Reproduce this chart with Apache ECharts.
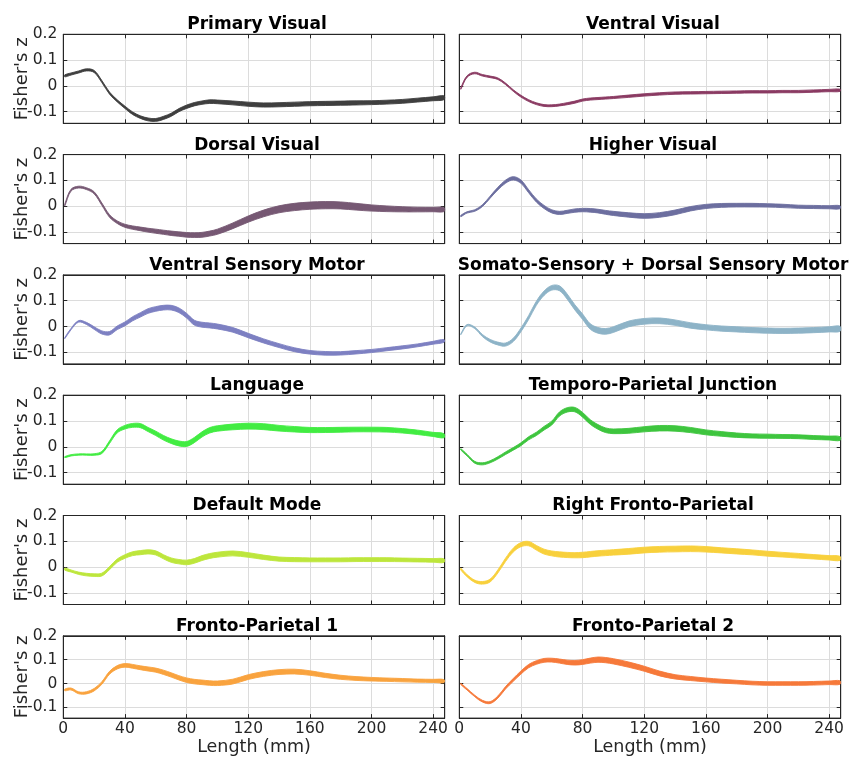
<!DOCTYPE html>
<html><head><meta charset="utf-8">
<script src="https://cdn.jsdelivr.net/npm/echarts@6/dist/echarts.min.js"></script>
<style>html,body{margin:0;padding:0;background:#fff}#c{width:852px;height:757px}</style>
</head><body><div id="c"></div>
<script>
// Length (mm) sample positions
const xLen = [1,5,10,15,20,25,30,35,40,45,50,55,60,65,70,75,80,85,90,95,100,110,120,130,140,150,160,170,180,190,200,210,220,230,240,247];

// Panel titles
const titles = ['Primary Visual','Ventral Visual','Dorsal Visual','Higher Visual','Ventral Sensory Motor','Somato-Sensory + Dorsal Sensory Motor','Language','Temporo-Parietal Junction','Default Mode','Right Fronto-Parietal','Fronto-Parietal 1','Fronto-Parietal 2'];

// Mean Fisher's z per network
const primaryVisual = [0.039,0.046,0.054,0.062,0.056,0.017,-0.028,-0.058,-0.083,-0.106,-0.121,-0.130,-0.132,-0.124,-0.112,-0.094,-0.081,-0.071,-0.065,-0.061,-0.062,-0.066,-0.071,-0.074,-0.073,-0.071,-0.069,-0.068,-0.067,-0.066,-0.065,-0.063,-0.060,-0.055,-0.050,-0.046];
const ventralVisual = [-0.010,0.036,0.050,0.041,0.035,0.028,0.008,-0.018,-0.040,-0.057,-0.069,-0.076,-0.077,-0.074,-0.069,-0.063,-0.055,-0.051,-0.049,-0.047,-0.045,-0.040,-0.035,-0.031,-0.028,-0.027,-0.026,-0.025,-0.024,-0.023,-0.023,-0.022,-0.022,-0.020,-0.018,-0.017];
const dorsalVisual = [0.005,0.062,0.074,0.068,0.052,0.008,-0.038,-0.062,-0.076,-0.083,-0.088,-0.093,-0.097,-0.101,-0.105,-0.108,-0.111,-0.112,-0.111,-0.106,-0.099,-0.076,-0.050,-0.028,-0.012,-0.003,0.002,0.004,0.003,-0.002,-0.007,-0.010,-0.012,-0.013,-0.013,-0.013];
const higherVisual = [-0.038,-0.024,-0.017,0.002,0.035,0.068,0.095,0.108,0.095,0.058,0.022,-0.003,-0.020,-0.026,-0.022,-0.017,-0.015,-0.016,-0.019,-0.024,-0.028,-0.034,-0.038,-0.034,-0.024,-0.010,-0.001,0.003,0.004,0.004,0.003,0.001,-0.002,-0.003,-0.004,-0.004];
const ventralSensoryMotor = [-0.045,-0.010,0.020,0.012,-0.006,-0.023,-0.026,-0.005,0.010,0.030,0.045,0.060,0.068,0.073,0.073,0.063,0.042,0.015,0.007,0.004,0.000,-0.013,-0.035,-0.056,-0.074,-0.090,-0.100,-0.104,-0.104,-0.100,-0.095,-0.088,-0.081,-0.073,-0.063,-0.056];
const somatoSensory = [-0.030,0.005,-0.005,-0.035,-0.055,-0.066,-0.070,-0.052,-0.013,0.035,0.090,0.129,0.150,0.148,0.116,0.074,0.038,0.000,-0.015,-0.019,-0.012,0.010,0.020,0.022,0.015,0.004,-0.003,-0.008,-0.011,-0.014,-0.016,-0.017,-0.016,-0.014,-0.011,-0.009];
const language = [-0.040,-0.033,-0.030,-0.030,-0.030,-0.022,0.018,0.060,0.076,0.083,0.082,0.067,0.052,0.035,0.022,0.013,0.011,0.026,0.048,0.064,0.071,0.077,0.080,0.078,0.072,0.068,0.065,0.065,0.066,0.067,0.067,0.066,0.062,0.056,0.048,0.043];
const temporoParietal = [-0.010,-0.032,-0.060,-0.066,-0.058,-0.043,-0.025,-0.008,0.010,0.033,0.050,0.072,0.092,0.127,0.143,0.144,0.124,0.096,0.077,0.064,0.060,0.062,0.068,0.072,0.071,0.065,0.056,0.050,0.045,0.042,0.041,0.040,0.039,0.036,0.034,0.032];
const defaultMode = [-0.008,-0.015,-0.024,-0.029,-0.031,-0.029,-0.004,0.025,0.041,0.052,0.056,0.059,0.055,0.040,0.027,0.021,0.018,0.024,0.035,0.043,0.048,0.053,0.047,0.038,0.031,0.029,0.028,0.028,0.028,0.029,0.029,0.029,0.028,0.027,0.026,0.025];
const rightFrontoParietal = [-0.008,-0.033,-0.055,-0.061,-0.052,-0.017,0.028,0.066,0.087,0.091,0.075,0.060,0.053,0.049,0.047,0.046,0.047,0.050,0.053,0.055,0.057,0.061,0.066,0.069,0.070,0.071,0.069,0.065,0.061,0.057,0.052,0.048,0.044,0.040,0.036,0.034];
const frontoParietal1 = [-0.027,-0.023,-0.039,-0.039,-0.026,0.002,0.045,0.068,0.076,0.072,0.066,0.061,0.056,0.047,0.036,0.024,0.014,0.008,0.005,0.002,0.001,0.008,0.027,0.040,0.048,0.050,0.044,0.034,0.026,0.021,0.018,0.016,0.014,0.012,0.011,0.010];
const frontoParietal2 = [-0.002,-0.024,-0.052,-0.074,-0.080,-0.057,-0.018,0.015,0.046,0.073,0.088,0.097,0.098,0.094,0.089,0.087,0.090,0.096,0.100,0.098,0.093,0.079,0.062,0.042,0.028,0.021,0.015,0.010,0.006,0.002,0.000,0.000,0.000,0.001,0.003,0.004];

// Spread (band thickness) of Fisher's z per network
const primaryVisualSpread = [.008,.008,.008,.008,.008,.008,.008,.008,.009,.010,.010,.011,.011,.012,.012,.012,.013,.013,.013,.014,.014,.015,.016,.016,.016,.016,.016,.016,.016,.016,.015,.015,.015,.015,.015,.015];
const ventralVisualSpread = [.006,.006,.006,.006,.006,.006,.006,.006,.007,.007,.007,.007,.007,.007,.008,.008,.008,.008,.008,.008,.008,.009,.009,.009,.009,.009,.009,.009,.009,.009,.009,.009,.009,.009,.009,.009];
const dorsalVisualSpread = [.007,.007,.007,.007,.008,.009,.010,.010,.012,.013,.014,.015,.016,.016,.017,.017,.018,.018,.019,.019,.020,.022,.024,.026,.027,.028,.028,.028,.027,.026,.024,.022,.020,.018,.017,.016];
const higherVisualSpread = [.005,.005,.006,.007,.008,.010,.012,.013,.013,.012,.012,.012,.012,.012,.012,.013,.013,.014,.014,.015,.016,.017,.018,.018,.018,.017,.016,.015,.014,.014,.013,.013,.012,.012,.012,.012];
const ventralSensoryMotorSpread = [.004,.005,.006,.008,.010,.012,.013,.014,.015,.016,.017,.018,.018,.018,.018,.018,.018,.019,.019,.019,.019,.018,.017,.016,.015,.015,.014,.014,.013,.013,.012,.012,.012,.011,.011,.011];
const somatoSensorySpread = [.004,.005,.006,.008,.010,.011,.012,.013,.014,.015,.016,.017,.018,.019,.020,.020,.021,.021,.022,.022,.022,.022,.022,.022,.021,.021,.020,.020,.020,.020,.020,.020,.020,.020,.020,.020];
const languageSpread = [.004,.005,.005,.005,.006,.008,.010,.012,.014,.015,.016,.016,.017,.018,.018,.019,.019,.020,.020,.021,.021,.022,.023,.023,.022,.021,.020,.019,.019,.018,.018,.018,.017,.017,.016,.016];
const temporoParietalSpread = [.005,.006,.007,.008,.008,.009,.010,.010,.011,.012,.013,.014,.015,.016,.017,.017,.018,.018,.018,.018,.018,.019,.020,.021,.021,.020,.019,.018,.017,.016,.016,.015,.015,.015,.015,.015];
const defaultModeSpread = [.008,.008,.009,.010,.010,.011,.012,.013,.014,.015,.016,.016,.016,.016,.017,.017,.018,.018,.019,.019,.019,.019,.018,.017,.016,.016,.015,.015,.015,.015,.015,.015,.014,.014,.014,.014];
const rightFrontoParietalSpread = [.007,.008,.009,.010,.011,.012,.013,.015,.016,.017,.018,.019,.019,.020,.020,.020,.021,.021,.021,.021,.021,.022,.022,.022,.022,.022,.021,.020,.020,.019,.019,.018,.018,.017,.017,.016];
const frontoParietal1Spread = [.007,.008,.008,.009,.010,.011,.012,.014,.015,.016,.016,.017,.017,.018,.018,.018,.019,.019,.019,.019,.019,.020,.020,.020,.020,.020,.019,.018,.017,.016,.015,.014,.014,.013,.013,.013];
const frontoParietal2Spread = [.005,.006,.006,.007,.008,.009,.010,.012,.013,.014,.015,.016,.016,.017,.018,.019,.020,.021,.022,.022,.022,.022,.021,.020,.018,.017,.016,.016,.015,.015,.015,.015,.015,.015,.015,.015];

// Tick labels
const xTicks = [0,40,80,120,160,200,240];
const yTicks = [-0.1,0,0.1,0.2];

const means = [primaryVisual,ventralVisual,dorsalVisual,higherVisual,ventralSensoryMotor,somatoSensory,language,temporoParietal,defaultMode,rightFrontoParietal,frontoParietal1,frontoParietal2];
const spreads = [primaryVisualSpread,ventralVisualSpread,dorsalVisualSpread,higherVisualSpread,ventralSensoryMotorSpread,somatoSensorySpread,languageSpread,temporoParietalSpread,defaultModeSpread,rightFrontoParietalSpread,frontoParietal1Spread,frontoParietal2Spread];
const colors = ['#3f3f3f','#8a3a62','#765873','#6c6e9f','#7d80c2','#8db3c7','#42ec42','#3ec53e','#bde63c','#f8d03c','#f9a33e','#f6793a'];

const FONT = 'DejaVu Sans';
const TXT = '#262626';
const colLeft = [63.3, 459.3], W = 381.4, H = 89, top0 = 34.3, step = 120.3;
const XMIN = 0, XMAX = 247.5, YMIN = -0.145, YMAX = 0.2;

const grid = [], xAxis = [], yAxis = [], series = [], title = [];
const isTick = (v, arr) => arr.some(t => Math.abs(t - v) < 1e-9);

means.forEach((m, i) => {
  const col = i % 2, row = Math.floor(i / 2);
  const left = colLeft[col], top = top0 + row * step;
  const bottomRow = row === 5;
  grid.push({left, top, width: W, height: H, show: true, borderColor: TXT, borderWidth: 1, backgroundColor: 'transparent'});
  title.push({text: titles[i], left: left + W / 2 - 2, top: top - 23, textAlign: 'center',
    textStyle: {fontFamily: FONT, fontSize: 17, fontWeight: 'bold', color: '#000', lineHeight: 17}});
  xAxis.push({gridIndex: i, type: 'value', min: XMIN, max: XMAX, interval: 40, position: 'bottom',
    axisLine: {show: true, onZero: false, lineStyle: {color: TXT}},
    axisTick: {show: true, inside: true, length: 4, lineStyle: {color: TXT}},
    axisLabel: {show: bottomRow, margin: 3, fontFamily: FONT, fontSize: 15.5, color: TXT,
      formatter: v => isTick(v, xTicks) ? String(Math.round(v)) : ''},
    splitLine: {show: true, lineStyle: {color: '#dcdcdc', width: 1}},
    name: bottomRow ? 'Length (mm)' : '', nameLocation: 'middle', nameGap: 16,
    nameTextStyle: {fontFamily: FONT, fontSize: 17.5, color: TXT}});
  xAxis.push({gridIndex: i, type: 'value', min: XMIN, max: XMAX, interval: 40, position: 'top',
    axisLine: {show: true, onZero: false, lineStyle: {color: TXT}},
    axisTick: {show: true, inside: true, length: 4, lineStyle: {color: TXT}},
    axisLabel: {show: false}, splitLine: {show: false}});
  yAxis.push({gridIndex: i, type: 'value', min: YMIN, max: YMAX, splitNumber: 3, position: 'left',
    axisLine: {show: true, onZero: false, lineStyle: {color: TXT}},
    axisTick: {show: true, inside: true, length: 4, lineStyle: {color: TXT}},
    axisLabel: {show: col === 0, margin: 6, fontFamily: FONT, fontSize: 15.5, color: TXT,
      formatter: v => isTick(v, yTicks) ? (Math.abs(v) < 1e-9 ? '0' : String(+v.toFixed(1))) : ''},
    splitLine: {show: true, lineStyle: {color: '#dcdcdc', width: 1}},
    name: col === 0 ? "Fisher's z" : '', nameLocation: 'middle', nameGap: 32, nameMoveOverlap: false,
    nameTextStyle: {fontFamily: FONT, fontSize: 18, color: TXT}});
  yAxis.push({gridIndex: i, type: 'value', min: YMIN, max: YMAX, splitNumber: 3, position: 'right',
    axisLine: {show: true, onZero: false, lineStyle: {color: TXT}},
    axisTick: {show: true, inside: true, length: 4, lineStyle: {color: TXT}},
    axisLabel: {show: false}, splitLine: {show: false}});
  const s = spreads[i];
  const c = colors[i];
  series.push({
    type: 'custom', coordinateSystem: 'cartesian2d', xAxisIndex: 2 * i, yAxisIndex: 2 * i, clip: true, silent: true, z: 3,
    data: xLen.map((x, k) => [x, m[k] - s[k] / 2, m[k] + s[k] / 2]),
    encode: {x: 0, y: [1, 2]},
    renderItem: (params, api) => {
      if (params.dataIndex !== 0) return null;
      const up = xLen.map((x, k) => api.coord([x, m[k] + s[k] / 2]));
      const lo = xLen.map((x, k) => api.coord([x, m[k] - s[k] / 2])).reverse();
      return {type: 'polygon', shape: {points: up.concat(lo), smooth: 0.35},
        style: {fill: c, stroke: c, lineWidth: 0.9, lineJoin: 'round'}};
    }
  });
});

const chart = echarts.init(document.getElementById('c'), null, {renderer: 'canvas'});
chart.setOption({animation: false, backgroundColor: '#fff', title, grid, xAxis, yAxis, series});
</script></body></html>
